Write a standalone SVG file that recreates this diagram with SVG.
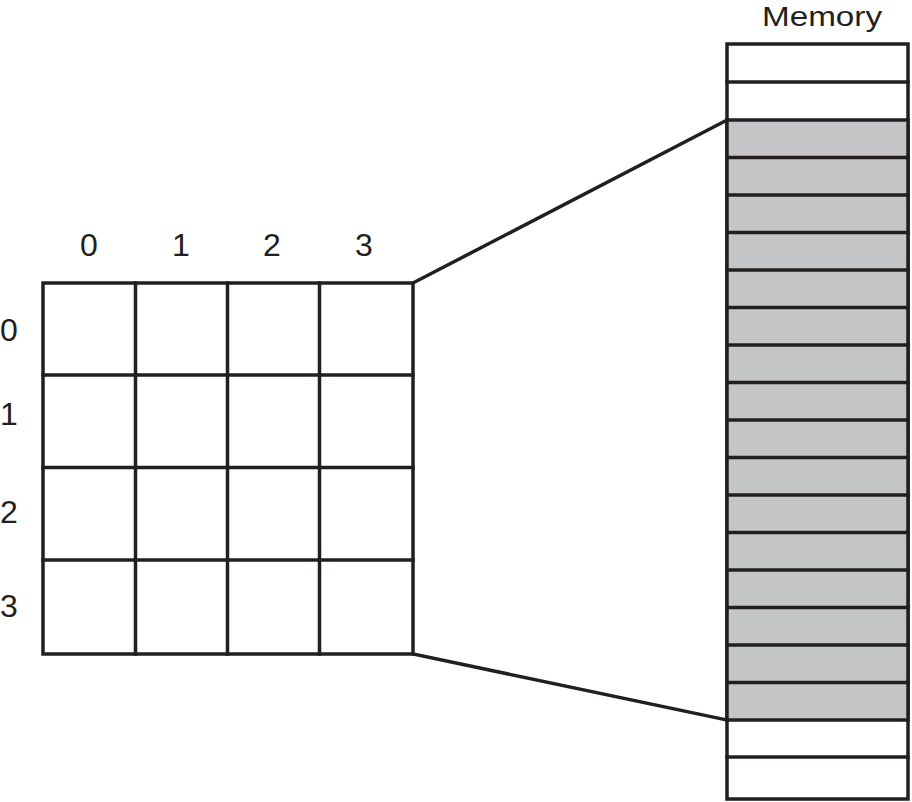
<svg xmlns="http://www.w3.org/2000/svg" width="912" height="802" viewBox="0 0 912 802">
<style>
.ln{stroke:#231f20;stroke-width:3.5;fill:none;stroke-linecap:square}
.cell{fill:#ffffff;stroke:#231f20;stroke-width:3.5}
.mem{fill:#c4c5c7;stroke:#231f20;stroke-width:3.5}
.lbl{font-family:"Liberation Sans",Arial,sans-serif;font-size:32px;fill:#231f20;text-anchor:middle}
.ttl{font-family:"Liberation Sans",Arial,sans-serif;font-size:27px;fill:#231f20;text-anchor:middle}
</style>
<rect width="912" height="802" fill="#ffffff"/>
<g id="grid">
<rect class="cell" x="43" y="283" width="370" height="371"/>
<line class="ln" x1="135.5" y1="283" x2="135.5" y2="654"/>
<line class="ln" x1="227.5" y1="283" x2="227.5" y2="654"/>
<line class="ln" x1="319.5" y1="283" x2="319.5" y2="654"/>
<line class="ln" x1="43" y1="375" x2="413" y2="375"/>
<line class="ln" x1="43" y1="467.5" x2="413" y2="467.5"/>
<line class="ln" x1="43" y1="560" x2="413" y2="560"/>
</g>
<g id="col-labels">
<text class="lbl" x="89" y="256">0</text>
<text class="lbl" x="181" y="256">1</text>
<text class="lbl" x="272" y="256">2</text>
<text class="lbl" x="364" y="256">3</text>
</g>
<g id="row-labels">
<text class="lbl" x="9" y="341">0</text>
<text class="lbl" x="9" y="425">1</text>
<text class="lbl" x="9" y="523">2</text>
<text class="lbl" x="9" y="617">3</text>
</g>
<g id="memory">
<text class="ttl" x="822" y="26" textLength="120" lengthAdjust="spacingAndGlyphs">Memory</text>
<rect class="cell" x="727" y="44" width="181" height="755"/>
<rect class="mem" x="727" y="120" width="181" height="600"/>
<line class="ln" x1="727" y1="82" x2="908" y2="82"/>
<line class="ln" x1="727" y1="157.5" x2="908" y2="157.5"/>
<line class="ln" x1="727" y1="195" x2="908" y2="195"/>
<line class="ln" x1="727" y1="232.5" x2="908" y2="232.5"/>
<line class="ln" x1="727" y1="270" x2="908" y2="270"/>
<line class="ln" x1="727" y1="307.5" x2="908" y2="307.5"/>
<line class="ln" x1="727" y1="345" x2="908" y2="345"/>
<line class="ln" x1="727" y1="382.5" x2="908" y2="382.5"/>
<line class="ln" x1="727" y1="420" x2="908" y2="420"/>
<line class="ln" x1="727" y1="457.5" x2="908" y2="457.5"/>
<line class="ln" x1="727" y1="495" x2="908" y2="495"/>
<line class="ln" x1="727" y1="532.5" x2="908" y2="532.5"/>
<line class="ln" x1="727" y1="570" x2="908" y2="570"/>
<line class="ln" x1="727" y1="607.5" x2="908" y2="607.5"/>
<line class="ln" x1="727" y1="645" x2="908" y2="645"/>
<line class="ln" x1="727" y1="682.5" x2="908" y2="682.5"/>
<line class="ln" x1="727" y1="757" x2="908" y2="757"/>
</g>
<g id="connectors">
<line class="ln" x1="413" y1="283" x2="727" y2="120"/>
<line class="ln" x1="413" y1="654" x2="727" y2="720"/>
</g>
</svg>
